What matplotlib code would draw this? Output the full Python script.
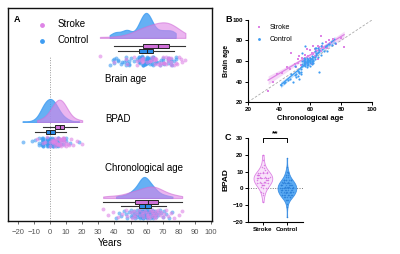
import matplotlib.pyplot as plt
import numpy as np

plt.rcParams['font.family'] = ['Liberation Sans', 'DejaVu Sans']

# Stroke group: chronological age and brain-predicted age difference (BPAD)
stroke_age = [33, 36, 39, 42, 45, 47, 48, 50, 51, 52, 52, 53, 54, 55, 56,
              57, 58, 58, 59, 60, 60, 61, 61, 62, 62, 63, 63, 64, 64, 65,
              65, 66, 66, 67, 67, 68, 69, 70, 71, 72, 73, 75, 77, 80, 82]
stroke_bpad = [-2, 4, 8, 6, 9, 5, 20, 7, 3, 10, 6, 12, 2, 8, 4,
               9, 14, 0, 6, 11, 3, 7, -4, 13, 5, 2, 9, 6, 1, 10,
               -3, 8, 5, 17, 3, 7, 4, 9, 2, 8, 5, 6, 0, 2, -8]

# Control group: chronological age and predicted brain age
control_age = [41, 43, 44, 46, 47, 48, 49, 50, 50, 51, 51, 52, 52, 53, 53,
               53, 54, 54, 54, 55, 55, 55, 55, 56, 56, 56, 56, 56, 57, 57,
               57, 57, 57, 57, 58, 58, 58, 58, 58, 58, 58, 59, 59, 59, 59,
               59, 59, 60, 60, 60, 60, 60, 60, 61, 61, 61, 61, 61, 62, 62,
               62, 62, 63, 63, 63, 63, 64, 64, 64, 65, 65, 65, 66, 66, 67,
               67, 68, 69, 70, 71, 72, 74, 76]
control_brain = [37, 39, 40, 41, 42, 47, 40, 46, 55, 47, 44, 50, 45, 49, 42,
                 48, 47, 52, 49, 57, 67.5, 60, 55, 59, 56, 61, 58, 63, 60, 57,
                 75, 59, 62, 55, 58, 61, 56, 60, 59, 63, 54, 60, 57, 62, 59,
                 61, 56, 58, 61, 60, 55, 63, 59, 59, 62, 57, 60, 65, 58, 61,
                 64, 60, 70, 64, 73, 62, 73, 66, 68, 69, 73, 64, 49, 71, 75,
                 66, 78, 70, 75, 70, 77, 76, 78]

groups = ['Stroke', 'Control']
variables = ['Brain age', 'BPAD', 'Chronological age']

PINK = '#DE84E6'
BLUE = '#3E9CF2'
BOX_PINK = '#D070D8'
BOX_BLUE = '#2C8BE8'

stroke_age = np.array(stroke_age, float)
stroke_bpad = np.array(stroke_bpad, float)
control_age = np.array(control_age, float)
control_brain = np.array(control_brain, float)
stroke_brain = stroke_age + stroke_bpad
control_bpad = control_brain - control_age

data = {
    'Brain age': (stroke_brain, control_brain),
    'BPAD': (stroke_bpad, control_bpad),
    'Chronological age': (stroke_age, control_age),
}


def kde(values, grid, adjust=1.0):
    # gaussian kde, Silverman's rule (bw.nrd0)
    v = np.asarray(values, float)
    q1, q3 = np.percentile(v, [25, 75])
    bw = adjust * 0.9 * min(v.std(ddof=1), (q3 - q1) / 1.34) * len(v) ** (-0.2)
    z = (grid[:, None] - v[None, :]) / bw
    return np.exp(-0.5 * z ** 2).sum(1) / (len(v) * bw * np.sqrt(2 * np.pi))


def jitter(n, spread):
    # deterministic spread of points (golden ratio sequence)
    return ((np.arange(n) * 0.618034) % 1 - 0.5) * spread


fig = plt.figure(figsize=(4, 2.54), dpi=100)

# ---------------- panel A: raincloud ----------------
ax = fig.add_axes([0.02, 0.13, 0.51, 0.839])
ax.set_xlim(-26, 100.5)
ax.set_ylim(0, 213)

# layout (vertical positions of each cloud), peak heights, smoothing
layout = {
    'Brain age': dict(base=183, box=(175, 170), pts=160, peak=25, label=142, adj=1.0),
    'BPAD': dict(base=99, box=(94, 89), pts=79, peak=23, label=102, adj=1.6),
    'Chronological age': dict(base=23, box=(19, 15), pts=7, peak=21, label=53, adj=1.0),
}

ax.plot([0, 0], [0, 164], ls=(0, (1, 1.5)), color='#999999', lw=0.7, zorder=0)

for var in variables:
    s_vals, c_vals = data[var]
    L = layout[var]
    grid_c = np.linspace(c_vals.min(), c_vals.max(), 200)
    dc = kde(c_vals, grid_c, L['adj'])
    scale = L['peak'] / dc.max()
    grid_s = np.linspace(s_vals.min(), s_vals.max(), 200)
    ds = kde(s_vals, grid_s, L['adj'])
    ax.fill_between(grid_c, L['base'], L['base'] + dc * scale,
                    color=BLUE, alpha=0.8, lw=0.8, zorder=2)
    ax.fill_between(grid_s, L['base'], L['base'] + ds * scale,
                    facecolor=PINK, edgecolor=BOX_PINK, alpha=0.6, lw=0.8, zorder=3)

    for vals, pos, col in [(s_vals, L['box'][0], BOX_PINK), (c_vals, L['box'][1], BOX_BLUE)]:
        ax.boxplot(vals, positions=[pos], widths=4, vert=False, patch_artist=True,
                   showfliers=False, manage_ticks=False,
                   boxprops=dict(facecolor=col, edgecolor='#222222', lw=0.7),
                   medianprops=dict(color='#222222', lw=0.8),
                   whiskerprops=dict(color='#333333', lw=0.8),
                   capprops=dict(lw=0), zorder=4)

    ax.scatter(c_vals, L['pts'] + jitter(len(c_vals), 9), s=8, color=BLUE,
               alpha=0.6, lw=0, zorder=2)
    ax.scatter(s_vals, L['pts'] + jitter(len(s_vals), 9) * -1, s=8, color=PINK,
               alpha=0.6, lw=0, zorder=3)
    ax.text(34, L['label'], var, fontsize=7, va='center', ha='left')

ax.set_yticks([])
ax.set_xticks(np.arange(-20, 101, 10))
ax.tick_params(axis='x', labelsize=5.5, colors='#555555', length=2, width=0.6)
for sp in ax.spines.values():
    sp.set_linewidth(1.0)
    sp.set_color('#111111')
ax.set_xlabel('Years', fontsize=7, labelpad=2)
ax.text(0.03, 0.945, 'A', transform=ax.transAxes, fontsize=6.5, weight='bold',
        va='center')
hs = ax.scatter([], [], s=6, color=PINK, label='Stroke')
hc = ax.scatter([], [], s=6, color=BLUE, label='Control')
ax.legend(handles=[hs, hc], loc='upper left', bbox_to_anchor=(0.1, 0.965),
          frameon=False, fontsize=7, handletextpad=0.6, labelspacing=0.6,
          borderaxespad=0)

# ---------------- panel B: scatter ----------------
axb = fig.add_axes([248 / 400, (254 - 102) / 254, 124 / 400, 82 / 254])
axb.set_xlim(20, 100)
axb.set_ylim(20, 100)
axb.plot([20, 100], [20, 100], ls=(0, (3, 2)), color='#AAAAAA', lw=0.6, zorder=0)


def reg_band(axis, x, y, color):
    b, a = np.polyfit(x, y, 1)
    xs = np.linspace(x.min(), x.max(), 100)
    ys = a + b * xs
    n = len(x)
    resid = y - (a + b * x)
    s = np.sqrt((resid ** 2).sum() / (n - 2))
    se = s * np.sqrt(1 / n + (xs - x.mean()) ** 2 / ((x - x.mean()) ** 2).sum())
    axis.fill_between(xs, ys - 2 * se, ys + 2 * se, color=color, alpha=0.3, lw=0, zorder=1)
    axis.plot(xs, ys, color=color, lw=0.9, zorder=2)


reg_band(axb, stroke_age, stroke_brain, PINK)
reg_band(axb, control_age, control_brain, BLUE)
axb.scatter(stroke_age, stroke_brain, s=1.5, marker='s', color=PINK, lw=0,
            label='Stroke', zorder=3)
axb.scatter(control_age, control_brain, s=2.5, color=BLUE, lw=0,
            label='Control', zorder=3)
axb.set_xticks([20, 40, 60, 80, 100])
axb.set_yticks([20, 40, 60, 80, 100])
axb.tick_params(labelsize=4.5, length=2, width=0.7, pad=1.5)
for lab in axb.get_xticklabels() + axb.get_yticklabels():
    lab.set_fontweight('bold')
axb.spines[['top', 'right']].set_visible(False)
axb.spines[['left', 'bottom']].set_linewidth(0.8)
axb.set_xlabel('Chronological age', fontsize=5.5, weight='bold', labelpad=2)
axb.set_ylabel('Brain age', fontsize=5, weight='bold', labelpad=2)
axb.legend(loc='upper left', frameon=False, fontsize=5, markerscale=1.3,
           handletextpad=0.5, labelspacing=0.7, borderaxespad=0.2)
fig.text(225 / 400, 1 - 20 / 254, 'B', fontsize=6.5, weight='bold', va='center')

# ---------------- panel C: violin ----------------
axc = fig.add_axes([248 / 400, (254 - 222) / 254, 55 / 400, 84 / 254])
axc.set_xlim(-0.62, 1.67)
axc.set_ylim(-20, 30)
axc.axhline(0, ls=(0, (1, 1.5)), color='#777777', lw=0.7, zorder=0)
vp = axc.violinplot([stroke_bpad, control_bpad], positions=[0, 1], widths=0.78,
                    showextrema=False)
vp['bodies'][0].set_facecolor('#F8E2FA')
vp['bodies'][0].set_edgecolor(PINK)
vp['bodies'][0].set_alpha(1)
vp['bodies'][1].set_facecolor(BLUE)
vp['bodies'][1].set_edgecolor('#2F86E0')
vp['bodies'][1].set_alpha(0.85)
for b in vp['bodies']:
    b.set_linewidth(0.6)

for i, (vals, col) in enumerate([(stroke_bpad, '#D56ADF'), (control_bpad, '#2A7FD8')]):
    dens = kde(vals, vals)
    half = dens / dens.max() * 0.3
    axc.scatter(i + jitter(len(vals), 2) * half, vals, s=1.2, color=col, lw=0,
                alpha=0.8, zorder=3)
    q1, med, q3 = np.percentile(vals, [25, 50, 75])
    axc.plot([i - 0.25, i + 0.25], [med, med], color=col, lw=0.5, ls=(0, (2, 1)))
    for q in (q1, q3):
        axc.plot([i - 0.2, i + 0.2], [q, q], color=col, lw=0.4, ls=(0, (1, 1)))

axc.plot([0, 0, 1, 1], [27.5, 30, 30, 27.5], color='black', lw=0.7, clip_on=False)
axc.text(0.5, 30.5, '**', ha='center', va='bottom', fontsize=6, weight='bold')
axc.set_xticks([0, 1])
axc.set_xticklabels(groups, fontsize=4.8, weight='bold')
axc.set_yticks([-20, -10, 0, 10, 20, 30])
axc.tick_params(labelsize=4.5, length=2, width=0.7, pad=1.5)
for lab in axc.get_yticklabels():
    lab.set_fontweight('bold')
axc.spines[['top', 'right']].set_visible(False)
axc.spines[['left', 'bottom']].set_linewidth(0.8)
axc.set_ylabel('BPAD', fontsize=6, weight='bold', labelpad=2)
fig.text(225 / 400, 1 - 138 / 254, 'C', fontsize=6.5, weight='bold', va='center')

fig.savefig('out.png', dpi=100)
